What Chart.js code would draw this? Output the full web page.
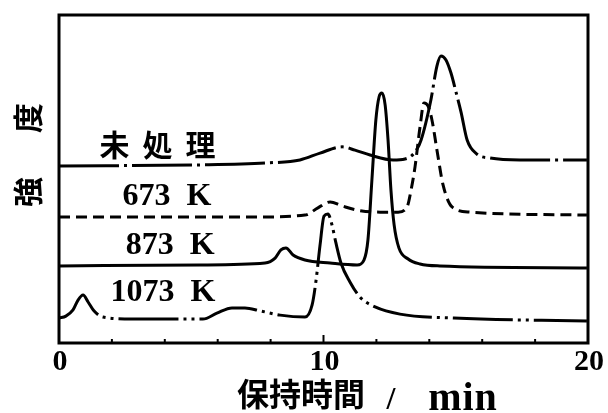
<!DOCTYPE html>
<html>
<head>
<meta charset="utf-8">
<script src="https://cdn.jsdelivr.net/npm/chart.js@4"></script>
<style>
  html, body { margin: 0; padding: 0; background: #fff; }
  #wrap { width: 608px; height: 413px; }
</style>
</head>
<body>
<div id="wrap"><canvas id="c" width="608" height="413"></canvas></div>
<script>
// retention time (min) and intensity (arbitrary, offset traces)
var untreatedT = [0, 5.33, 7.86, 9.11, 9.87, 10.7, 11.19, 11.76, 12.63, 13.08, 13.46, 13.69, 14.06, 14.29, 14.44, 14.63, 14.82, 15.01, 15.2, 15.43, 15.8, 16.3, 17.43, 19.96];
var untreatedI = [54.0, 54.3, 54.9, 55.8, 57.9, 59.8, 58.8, 57.3, 55.8, 56.1, 58.2, 61.9, 74.1, 84.5, 87.5, 86.3, 82.3, 76.5, 70.4, 61.9, 57.6, 56.4, 55.8, 55.8];

var k673T = [0, 7.22, 9.3, 9.79, 10.25, 10.7, 11.27, 12.14, 12.82, 13.16, 13.31, 13.46, 13.65, 13.8, 13.95, 14.1, 14.29, 14.52, 14.86, 15.54, 19.96];
var k673I = [38.4, 38.4, 39.0, 41.2, 43.0, 41.8, 40.5, 39.9, 39.9, 41.5, 46.6, 53.7, 65.9, 73.2, 72.3, 68.0, 58.8, 48.2, 41.5, 39.9, 39.0];

var k873T = [0, 5.33, 7.79, 8.17, 8.39, 8.58, 8.85, 9.3, 10.25, 11.27, 11.53, 11.68, 11.83, 11.98, 12.1, 12.21, 12.33, 12.44, 12.55, 12.67, 12.85, 13.2, 13.65, 14.4, 19.96];
var k873I = [23.5, 23.8, 24.4, 25.9, 28.4, 29.0, 26.8, 25.3, 24.4, 23.8, 25.3, 31.4, 49.7, 68.0, 75.0, 76.2, 72.6, 61.9, 46.6, 36.0, 29.0, 25.6, 24.1, 23.5, 22.9];

var k1073T = [0, 0.26, 0.53, 0.72, 0.91, 1.1, 1.32, 1.66, 2.8, 5.44, 5.97, 6.54, 7.03, 7.6, 8.36, 9.3, 9.57, 9.72, 9.87, 10.02, 10.17, 10.32, 10.47, 10.66, 11.0, 11.38, 11.95, 12.89, 14.93, 19.96];
var k1073I = [7.6, 8.2, 10.1, 13.1, 14.6, 12.5, 9.8, 7.9, 7.3, 7.3, 9.1, 10.7, 10.7, 9.8, 8.5, 7.9, 11.6, 19.2, 29.9, 38.7, 39.3, 36.0, 30.5, 24.4, 18.6, 14.0, 11.0, 8.8, 7.6, 6.7];

var seriesNames = ['未処理', '673  K', '873  K', '1073  K'];
var labelT = [3.74, 4.08, 4.2, 3.93];
var labelI = [60.4, 44.5, 29.6, 15.2];

var xTickLabels = [0, 10, 20];
var minorTicks = [2, 4, 6, 8, 12, 14, 16, 18];
var majorTicks = [10];

function pts(t, v) {
    var out = [];
    for (var i = 0; i < t.length; i++) out.push({ x: t[i], y: v[i] });
    return out;
}

function trace(label, t, v, dash) {
    return {
        label: label,
        data: pts(t, v),
        borderColor: '#000',
        borderWidth: 3,
        borderDash: dash,
        pointRadius: 0,
        fill: false,
        cubicInterpolationMode: 'monotone'
    };
}

var decor = {
    id: 'decor',
    afterDraw: function (chart) {
        var ctx = chart.ctx;
        var a = chart.chartArea;
        var xs = chart.scales.x, ys = chart.scales.y;
        ctx.save();
        ctx.strokeStyle = '#000';
        ctx.fillStyle = '#000';
        ctx.setLineDash([]);
        // frame
        ctx.lineWidth = 3;
        ctx.strokeRect(a.left, a.top, a.right - a.left, a.bottom - a.top);
        // inward ticks on the time axis
        ctx.lineWidth = 2;
        minorTicks.forEach(function (t) {
            var px = xs.getPixelForValue(t);
            ctx.beginPath(); ctx.moveTo(px, a.bottom); ctx.lineTo(px, a.bottom - 4); ctx.stroke();
        });
        majorTicks.forEach(function (t) {
            var px = xs.getPixelForValue(t);
            ctx.beginPath(); ctx.moveTo(px, a.bottom); ctx.lineTo(px, a.bottom - 8); ctx.stroke();
        });
        // tick labels
        ctx.font = 'bold 30px "Liberation Serif"';
        ctx.textAlign = 'center';
        ctx.textBaseline = 'middle';
        xTickLabels.forEach(function (t) {
            ctx.fillText(String(t), xs.getPixelForValue(t) + 1, a.bottom + 19);
        });
        // axis title
        ctx.font = 'bold 32px "Noto Sans CJK JP"';
        ctx.fillText('保持時間', 301, 394);
        ctx.font = 'bold 32px "Liberation Serif"';
        ctx.textBaseline = 'alphabetic';
        ctx.fillText('/', 391, 409);
        ctx.font = 'bold 40px "Liberation Serif"';
        ctx.letterSpacing = '1px';
        ctx.fillText('min', 463, 410);
        ctx.letterSpacing = '0px';
        // y title, rotated
        ctx.save();
        ctx.translate(28, 155);
        ctx.rotate(-Math.PI / 2);
        ctx.font = 'bold 30px "Noto Sans CJK JP"';
        ctx.textBaseline = 'middle';
        ctx.fillText('強', -37, 0);
        ctx.fillText('度', 37, 0);
        ctx.restore();
        // series labels
        ctx.textBaseline = 'middle';
        for (var i = 0; i < seriesNames.length; i++) {
            var lx = xs.getPixelForValue(labelT[i]);
            var ly = ys.getPixelForValue(labelI[i]);
            if (i === 0) {
                ctx.font = 'bold 30px "Noto Sans CJK JP"';
                ctx.letterSpacing = '13px';
                ctx.fillText(seriesNames[i], lx + 6, ly);
                ctx.letterSpacing = '0px';
            } else {
                ctx.font = 'bold 32px "Liberation Serif"';
                ctx.fillText(seriesNames[i], lx, ly);
            }
        }
        ctx.restore();
    }
};

new Chart(document.getElementById('c'), {
    type: 'line',
    data: {
        datasets: [
            trace('未処理', untreatedT, untreatedI, [60, 5, 3, 5]),
            trace('673 K', k673T, k673I, [11, 6]),
            trace('873 K', k873T, k873I, []),
            trace('1073 K', k1073T, k1073I, [60, 5, 3, 5, 3, 5])
        ]
    },
    options: {
        responsive: false,
        animation: false,
        layout: { padding: { left: 59, right: 20, top: 15, bottom: 70 } },
        plugins: { legend: { display: false }, tooltip: { enabled: false } },
        scales: {
            x: { type: 'linear', min: 0, max: 20, display: false },
            y: { type: 'linear', min: 0, max: 100, display: false }
        }
    },
    plugins: [decor]
});
</script>
</body>
</html>
